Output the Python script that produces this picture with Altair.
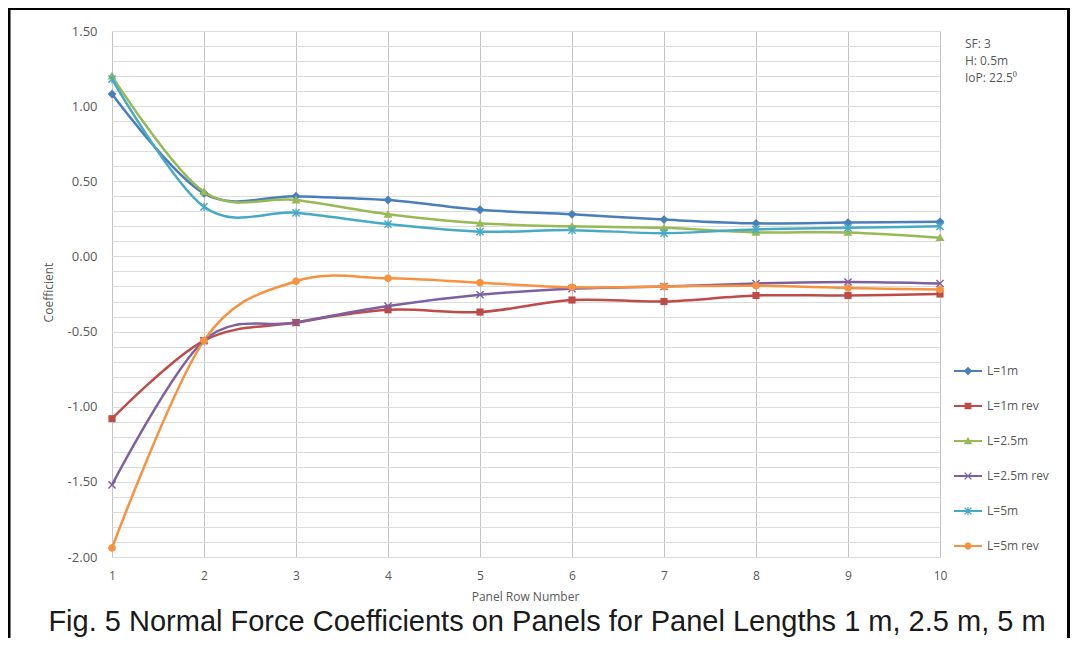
import math
import altair as alt
import pandas as pd

# ---------------- data ----------------
rows = [1, 2, 3, 4, 5, 6, 7, 8, 9, 10]
series_names = ["L=1m", "L=1m rev", "L=2.5m", "L=2.5m rev", "L=5m", "L=5m rev"]
l1 = [1.08, 0.42, 0.40, 0.375, 0.31, 0.28, 0.245, 0.22, 0.225, 0.23]
l1_rev = [-1.08, -0.56, -0.44, -0.355, -0.37, -0.29, -0.30, -0.26, -0.26, -0.25]
l25 = [1.20, 0.43, 0.375, 0.28, 0.22, 0.20, 0.19, 0.16, 0.16, 0.125]
l25_rev = [-1.52, -0.56, -0.44, -0.33, -0.255, -0.215, -0.20, -0.18, -0.17, -0.18]
l5 = [1.18, 0.33, 0.29, 0.215, 0.165, 0.175, 0.155, 0.18, 0.19, 0.20]
l5_rev = [-1.94, -0.56, -0.165, -0.145, -0.175, -0.205, -0.20, -0.195, -0.21, -0.22]
series_values = [l1, l1_rev, l25, l25_rev, l5, l5_rev]
colors = ["#4A7EBB", "#BE4B48", "#98B954", "#7D60A0", "#46AAC5", "#F69240"]

y_tick_values = [round(-2.0 + 0.1 * i, 1) for i in range(36)]
annotation_lines = ["SF: 3", "H: 0.5m", "IoP: 22.5\u2070"]
caption = "Fig. 5 Normal Force Coefficients on Panels for Panel Lengths 1 m, 2.5 m, 5 m"
x_title = "Panel Row Number"
y_title = "Coefficient"

df = pd.DataFrame(
    [{"row": r, "value": v, "series": s}
     for s, vals in zip(series_names, series_values)
     for r, v in zip(rows, vals)]
)

# ---------------- marker shapes (style only) ----------------
def _poly(pts, scale=1.0):
    pts = [(x * scale, y * scale) for x, y in pts]
    area = sum(pts[i][0] * pts[(i + 1) % len(pts)][1] - pts[(i + 1) % len(pts)][0] * pts[i][1]
               for i in range(len(pts)))
    if area > 0:
        pts = pts[::-1]
    return "M" + "L".join(f"{x:.3f},{y:.3f}" for x, y in pts) + "Z"

def _bar(x0, y0, x1, y1, w):
    dx, dy = x1 - x0, y1 - y0
    ln = math.hypot(dx, dy)
    nx, ny = -dy / ln * w, dx / ln * w
    return [(x0 + nx, y0 + ny), (x1 + nx, y1 + ny), (x1 - nx, y1 - ny), (x0 - nx, y0 - ny)]

diamond = [[(0, -1), (1, 0), (0, 1), (-1, 0)]]
square = [[(-0.8, -0.8), (0.8, -0.8), (0.8, 0.8), (-0.8, 0.8)]]
triangle = [[(0, -1), (1, 0.75), (-1, 0.75)]]
xcross = [_bar(-0.8, -0.8, 0.8, 0.8, 0.16), _bar(-0.8, 0.8, 0.8, -0.8, 0.16)]
star = xcross + [_bar(0, -0.95, 0, 0.95, 0.14)]
circle = [[(0.85 * math.cos(2 * math.pi * k / 20), 0.85 * math.sin(2 * math.pi * k / 20)) for k in range(20)]]
shapes = [diamond, square, triangle, xcross, star, circle]

marker_paths = ["".join(_poly(p) for p in shp) for shp in shapes]
legend_line = [(-1, -0.08), (1, -0.08), (1, 0.08), (-1, 0.08)]
legend_paths = [_poly(legend_line) + "".join(_poly(p, 0.3) for p in shp) for shp in shapes]

color_scale = alt.Scale(domain=series_names, range=colors)
FONT = "Open Sans"
GREY = "#595959"

x_axis = alt.Axis(
    values=rows, format="d", grid=True, gridColor="#c4c4c4", ticks=False, domain=False,
    labelFont=FONT, labelFontSize=12, labelColor=GREY, labelPadding=13, labelFlush=False,
    labelOverlap=False, title=x_title, titleFont=FONT, titleFontSize=12,
    titleFontWeight="normal", titleColor=GREY, titleX=413, titleY=39,
    titleAlign="center", titleBaseline="middle",
)
y_axis = alt.Axis(
    values=y_tick_values,
    labelExpr="abs(datum.value*2 - round(datum.value*2)) < 0.001 ? replace(format(datum.value, '.2f'), '\u2212', '-') : ''",
    labelOverlap=False, labelFlush=False, grid=True, gridColor="#dcdcdc", ticks=False, domain=False,
    labelFont=FONT, labelFontSize=13, labelColor=GREY, labelPadding=15,
    title=y_title, titleFont=FONT, titleFontSize=12, titleFontWeight="normal",
    titleColor=GREY, titleX=-64, titleY=261, titleAngle=270,
    titleAlign="center", titleBaseline="middle",
)
x_scale = alt.Scale(domain=[1, 10], nice=False, zero=False)
y_scale = alt.Scale(domain=[-2, 1.5], nice=False, zero=False)


def xy():
    return dict(
        x=alt.X("row:Q", scale=x_scale, axis=x_axis),
        y=alt.Y("value:Q", scale=y_scale, axis=y_axis),
    )


lines = alt.Chart(df).mark_line(interpolate="cardinal", strokeWidth=2.5).encode(
    color=alt.Color("series:N", scale=color_scale, legend=None), **xy()
)

markers = alt.Chart(df).mark_point(filled=True, opacity=1, size=80).encode(
    color=alt.Color("series:N", scale=color_scale, legend=None),
    shape=alt.Shape("series:N", scale=alt.Scale(domain=series_names, range=marker_paths), legend=None),
    **xy()
)

legend_def = alt.Legend(
    orient="none", legendX=842, legendY=326, title=None, symbolSize=784,
    symbolStrokeWidth=0, symbolOpacity=1, labelFont=FONT, labelFontSize=12,
    labelColor=GREY, labelOffset=5, rowPadding=15, padding=0,
)
legend_layer = alt.Chart(df).transform_filter("false").mark_point(filled=True, opacity=1).encode(
    fill=alt.Fill("series:N", scale=alt.Scale(domain=series_names, range=colors), legend=legend_def),
    shape=alt.Shape("series:N", scale=alt.Scale(domain=series_names, range=legend_paths), legend=legend_def),
    **xy()
)

annot = alt.Chart(pd.DataFrame({"t": ["\n".join(annotation_lines)]})).mark_text(
    align="left", baseline="top", lineBreak="\n", font=FONT, fontSize=12,
    color=GREY, lineHeight=17,
).encode(x=alt.value(853), y=alt.value(8), text="t:N")

cap = alt.Chart(pd.DataFrame({"t": [caption]})).mark_text(
    align="center", baseline="alphabetic", font="Liberation Sans", fontSize=29, color="#1a1a1a",
).encode(x=alt.value(435), y=alt.value(600), text="t:N")

border = alt.Chart(pd.DataFrame({"b": [0]})).mark_rect(
    fill="white", fillOpacity=0, stroke="black", strokeWidth=3,
).encode(x=alt.value(-103), x2=alt.value(956.5), y=alt.value(-22.5), y2=alt.value(700))

chart = alt.layer(lines, markers, legend_layer, annot, cap, border).resolve_scale(
    shape="independent", fill="independent"
).properties(
    width=828, height=526,
    autosize=alt.AutoSizeParams(type="none"),
    padding={"left": 104, "top": 23, "right": 130, "bottom": 81},
    background="white",
).configure_view(stroke="transparent")

chart.save("out.html", embed_options={"renderer": "svg", "actions": False})
